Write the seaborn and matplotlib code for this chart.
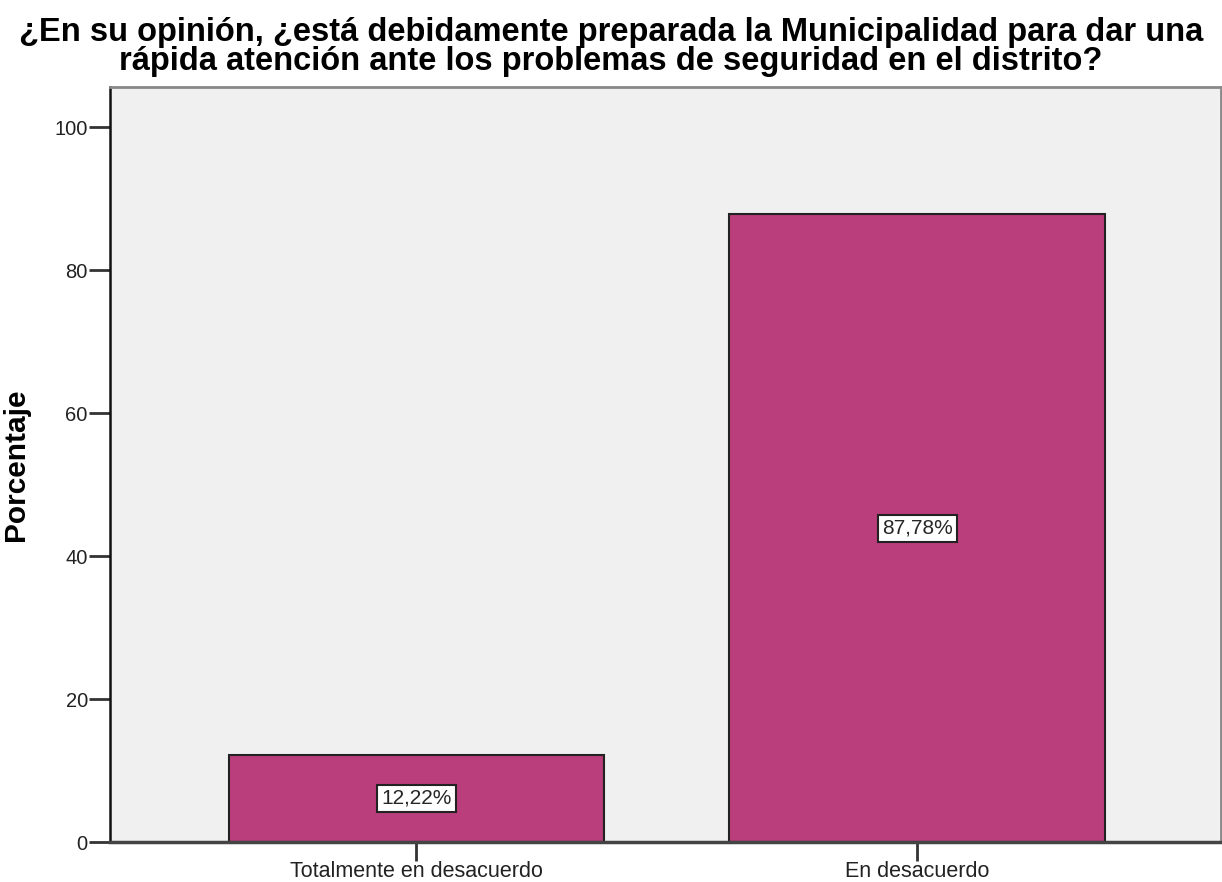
import pandas as pd
import numpy as np
import matplotlib.pyplot as plt
import seaborn as sns

categorias = ["Totalmente en desacuerdo", "En desacuerdo"]
porcentajes = [12.22, 87.78]
etiquetas = ["12,22%", "87,78%"]

sns.set_style("ticks")
plt.rcParams["font.family"] = ["Liberation Sans", "DejaVu Sans"]

df = pd.DataFrame({"Categoria": categorias, "Porcentaje": porcentajes})

fig = plt.figure(figsize=(12.22, 8.82), dpi=100)
ax = fig.add_axes([110 / 1222, 40 / 882, 1111 / 1222, 755 / 882])
ax.set_facecolor("#F0F0F0")

sns.barplot(data=df, x="Categoria", y="Porcentaje", color="#BA3E7B",
            saturation=1, width=0.75, edgecolor="#222222", linewidth=1.5, ax=ax)

for i, (v, lab) in enumerate(zip(porcentajes, etiquetas)):
    ax.text(i, v / 2, lab, ha="center", va="center", fontsize=15,
            bbox=dict(boxstyle="square,pad=0.2", fc="white", ec="#222222", lw=1.5))

ax.set_xlim(-0.612, 1.607)
ax.set_ylim(0, 105.6)
ax.set_yticks([0, 20, 40, 60, 80, 100])
ax.set_xlabel("")
ax.set_ylabel("Porcentaje", fontsize=21.5, fontweight="bold", color="black")
ax.yaxis.set_label_coords(-0.072, 0.5)

ax.tick_params(axis="y", length=15, width=2, color="#333333", labelsize=14.5, pad=1, labelcolor="#222222")
ax.tick_params(axis="x", length=14, width=2, color="#333333", labelsize=15.5, pad=0, labelcolor="#222222")

for s in ["top", "right"]:
    ax.spines[s].set_color("#888888")
    ax.spines[s].set_linewidth(2)
ax.spines["left"].set_color("#111111")
ax.spines["left"].set_linewidth(1.8)
ax.spines["bottom"].set_color("#444444")
ax.spines["bottom"].set_linewidth(2.5)

fig.text(0.5, 1 - 47 / 882,
         "¿En su opinión, ¿está debidamente preparada la Municipalidad para dar una\n"
         "rápida atención ante los problemas de seguridad en el distrito?",
         ha="center", va="center", fontsize=23.5, fontweight="bold", linespacing=0.92,
         color="black")

fig.savefig("out.png", dpi=100)
